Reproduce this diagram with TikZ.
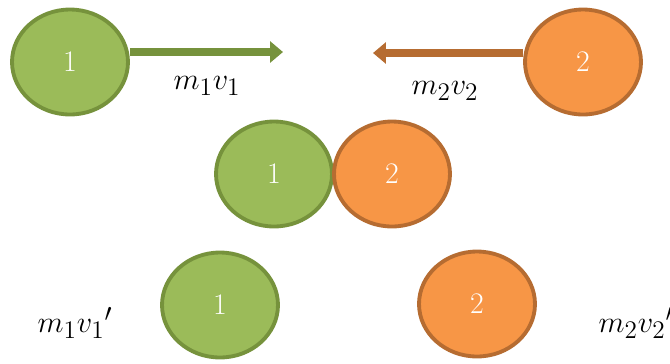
\documentclass[tikz,border=0pt]{standalone}
\usepackage{amsmath}
\usepackage{xcolor}
\usepackage{tikz}
\usetikzlibrary{arrows.meta, shapes.geometric}
\definecolor{gfill}{RGB}{155,187,89}
\definecolor{gline}{RGB}{118,146,60}
\definecolor{ofill}{RGB}{247,150,70}
\definecolor{oline}{RGB}{182,108,49}
\tikzset{
  ball/.style    ={ellipse, line width=2.2pt, minimum width=2.32cm, minimum height=2.1cm,
                   inner sep=0pt, text=white, font=\fontsize{17}{19}\selectfont},
  gball/.style   ={ball, fill=gfill, draw=gline},
  oball/.style   ={ball, fill=ofill, draw=oline},
  momarr/.style  ={-{Triangle[length=0.26cm, width=0.42cm]}, line width=4.5pt},
  momlabel/.style={font=\fontsize{19}{22}\selectfont, inner sep=0pt},
}
\begin{document}
\begin{tikzpicture}[x=0.02cm, y=-0.02cm]
\useasboundingbox (0,0) rectangle (670,363);
% before the collision
\node[gball] (a1) at (70,62) {1};
\node[oball] (a2) at (583,62) {2};
\coordinate (a1tip) at (283,52);
\coordinate (a2tip) at (373,53);
\draw[momarr, gline] (a1.east |- a1tip) -- (a1tip);
\draw[momarr, oline] (a2.west |- a2tip) -- (a2tip);
\node[momlabel] (p1) at (207,86) {$m_1v_1$};
\node[momlabel] (p2) at (445,91) {$m_2v_2$};
% collision
\node[gball] (b1) at (274,174) {1};
\node[oball] (b2) at (392,174) {2};
% after the collision
\node[gball] (c1) at (220,305) {1};
\node[oball] (c2) at (477,304) {2};
\node[momlabel] (q1) at (75,323) {$m_1v_1{}'$};
\node[momlabel] (q2) at (636,323) {$m_2v_2{}'$};
\end{tikzpicture}
\end{document}
